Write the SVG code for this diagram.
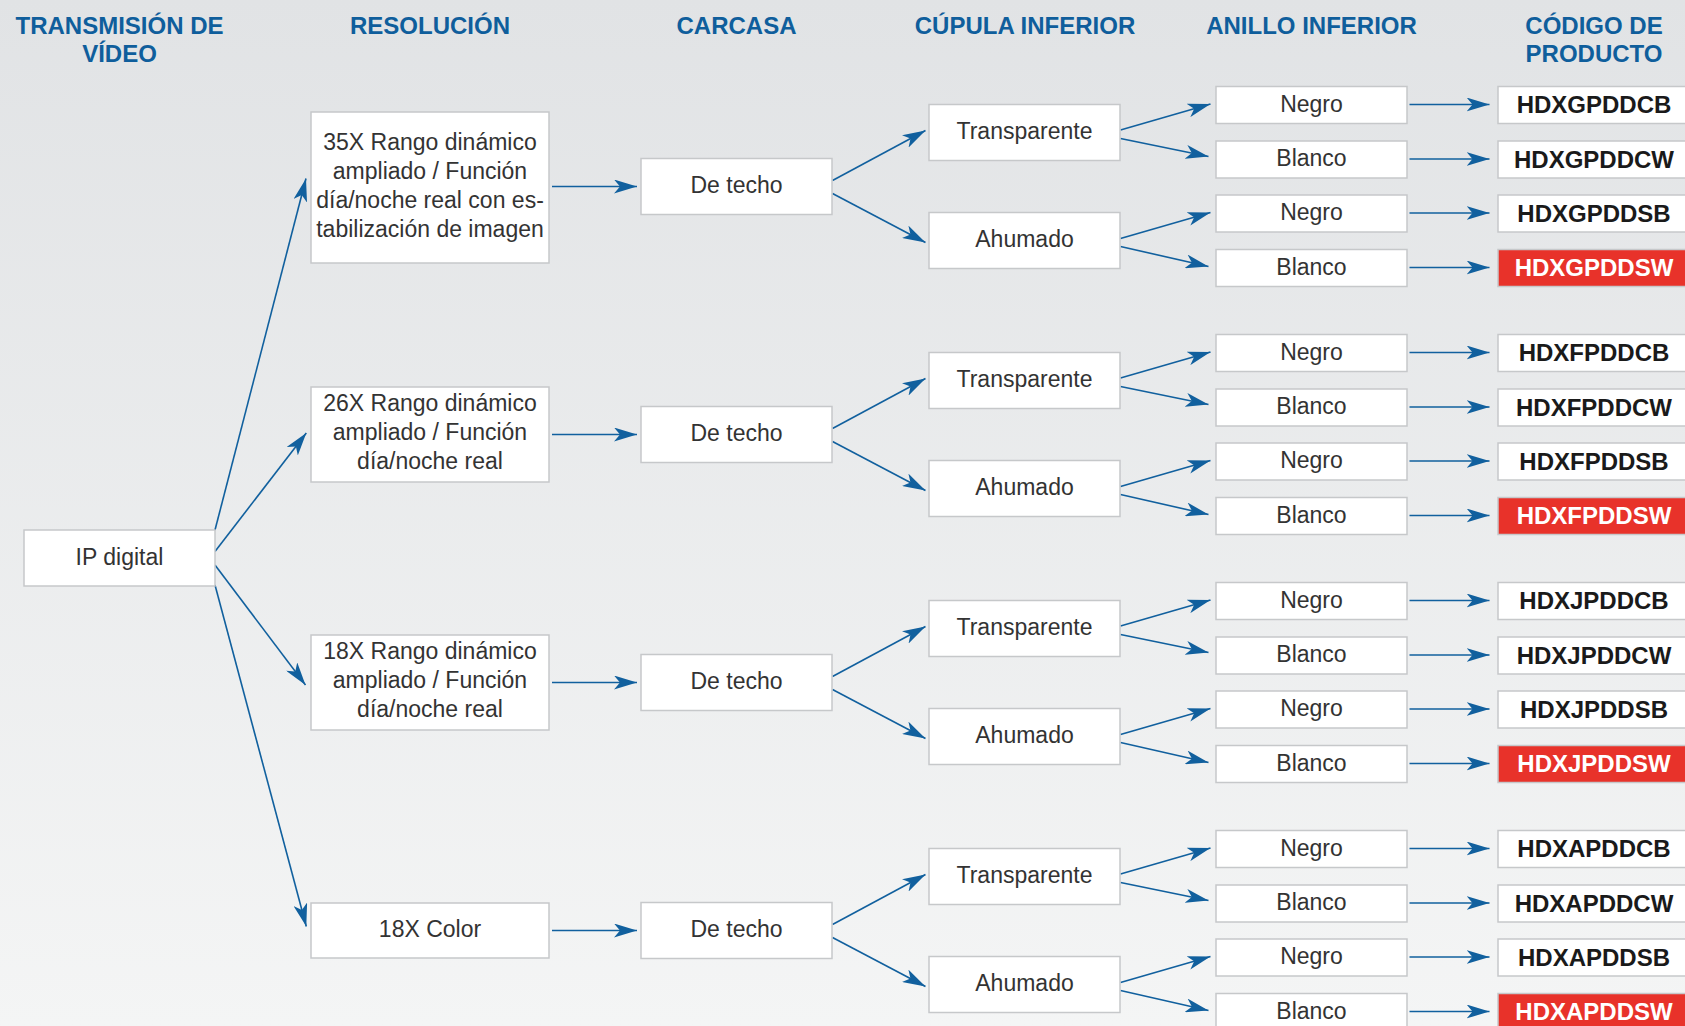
<svg xmlns="http://www.w3.org/2000/svg" width="1685" height="1026" viewBox="0 0 1685 1026">
<defs>
<linearGradient id="bg" x1="0" y1="0" x2="0" y2="1">
<stop offset="0" stop-color="#e1e3e5"/>
<stop offset="1" stop-color="#f4f5f5"/>
</linearGradient>
<marker id="ah" markerUnits="userSpaceOnUse" markerWidth="23" markerHeight="14" viewBox="0 0 23 14" refX="23" refY="7" orient="auto">
<path d="M0,0 L23,7 L0,14 L6,7 Z" fill="#11609e"/>
</marker>
<style>
.hd{font-family:"Liberation Sans",Arial,sans-serif;font-weight:bold;font-size:24px;fill:#0f5e9c;text-anchor:middle}
.bx{fill:#ffffff;stroke:#c6c8ca;stroke-width:1.5}
.red{fill:#e8322a;stroke:#c6c8ca;stroke-width:1.5}
.t{font-family:"Liberation Sans",Arial,sans-serif;font-size:23px;fill:#333333;text-anchor:middle}
.c{font-family:"Liberation Sans",Arial,sans-serif;font-weight:bold;font-size:24px;fill:#1a1a1a;text-anchor:middle}
.cw{font-family:"Liberation Sans",Arial,sans-serif;font-weight:bold;font-size:24px;fill:#ffffff;text-anchor:middle}
.ln{fill:none;stroke:#11609e;stroke-width:1.6;marker-end:url(#ah)}
</style>
</defs>
<rect x="0" y="0" width="1685" height="1026" fill="url(#bg)"/>

<g id="headers">
<text class="hd" x="119.5" y="33.5">TRANSMISIÓN DE</text>
<text class="hd" x="119.5" y="61.7">VÍDEO</text>
<text class="hd" x="430" y="33.5">RESOLUCIÓN</text>
<text class="hd" x="736.5" y="33.5">CARCASA</text>
<text class="hd" x="1025" y="33.5">CÚPULA INFERIOR</text>
<text class="hd" x="1311.5" y="33.5">ANILLO INFERIOR</text>
<text class="hd" x="1594" y="33.5">CÓDIGO DE</text>
<text class="hd" x="1594" y="61.7">PRODUCTO</text>
</g>

<g id="connectors">
<path class="ln" d="M215,530 L306,178.5"/>
<path class="ln" d="M215,551.5 L306.3,433"/>
<path class="ln" d="M215,565 L305.5,685"/>
<path class="ln" d="M215,585 L306.3,926.5"/>

<path class="ln" d="M552,186.5 L637,186.5"/>
<path class="ln" d="M552,434.5 L637,434.5"/>
<path class="ln" d="M552,682.5 L637,682.5"/>
<path class="ln" d="M552,930.5 L637,930.5"/>

<path class="ln" d="M832.5,180.5 L925.5,130.5"/>
<path class="ln" d="M832.5,193.5 L925.5,242.5"/>
<path class="ln" d="M832.5,428.5 L925.5,378.5"/>
<path class="ln" d="M832.5,441.5 L925.5,490.5"/>
<path class="ln" d="M832.5,676.5 L925.5,626.5"/>
<path class="ln" d="M832.5,689.5 L925.5,738.5"/>
<path class="ln" d="M832.5,924.5 L925.5,874.5"/>
<path class="ln" d="M832.5,937.5 L925.5,986.5"/>

<path class="ln" d="M1120.5,130 L1210.5,104"/>
<path class="ln" d="M1120.5,138.5 L1208.5,156.5"/>
<path class="ln" d="M1120.5,238.5 L1210.5,212.5"/>
<path class="ln" d="M1120.5,246.5 L1208.5,266.5"/>
<path class="ln" d="M1120.5,378 L1210.5,352"/>
<path class="ln" d="M1120.5,386.5 L1208.5,404.5"/>
<path class="ln" d="M1120.5,486.5 L1210.5,460.5"/>
<path class="ln" d="M1120.5,494.5 L1208.5,514.5"/>
<path class="ln" d="M1120.5,626 L1210.5,600"/>
<path class="ln" d="M1120.5,634.5 L1208.5,652.5"/>
<path class="ln" d="M1120.5,734.5 L1210.5,708.5"/>
<path class="ln" d="M1120.5,742.5 L1208.5,762.5"/>
<path class="ln" d="M1120.5,874 L1210.5,848"/>
<path class="ln" d="M1120.5,882.5 L1208.5,900.5"/>
<path class="ln" d="M1120.5,982.5 L1210.5,956.5"/>
<path class="ln" d="M1120.5,990.5 L1208.5,1010.5"/>

<path class="ln" d="M1409.5,104.5 L1489.5,104.5"/>
<path class="ln" d="M1409.5,159 L1489.5,159"/>
<path class="ln" d="M1409.5,213 L1489.5,213"/>
<path class="ln" d="M1409.5,267.5 L1489.5,267.5"/>
<path class="ln" d="M1409.5,352.5 L1489.5,352.5"/>
<path class="ln" d="M1409.5,407 L1489.5,407"/>
<path class="ln" d="M1409.5,461 L1489.5,461"/>
<path class="ln" d="M1409.5,515.5 L1489.5,515.5"/>
<path class="ln" d="M1409.5,600.5 L1489.5,600.5"/>
<path class="ln" d="M1409.5,655 L1489.5,655"/>
<path class="ln" d="M1409.5,709 L1489.5,709"/>
<path class="ln" d="M1409.5,763.5 L1489.5,763.5"/>
<path class="ln" d="M1409.5,848.5 L1489.5,848.5"/>
<path class="ln" d="M1409.5,903 L1489.5,903"/>
<path class="ln" d="M1409.5,957 L1489.5,957"/>
<path class="ln" d="M1409.5,1011.5 L1489.5,1011.5"/>
</g>

<g id="ip"><rect class="bx" x="24" y="530" width="191" height="56"/><text class="t" x="119.5" y="565">IP digital</text></g>

<g id="res1"><rect class="bx" x="311" y="112" width="238" height="151"/>
<text class="t" x="430" y="150">35X Rango dinámico</text>
<text class="t" x="430" y="179.2">ampliado / Función</text>
<text class="t" x="430" y="208.3">día/noche real con es-</text>
<text class="t" x="430" y="237.4">tabilización de imagen</text></g>
<g id="res2"><rect class="bx" x="311" y="387" width="238" height="95"/>
<text class="t" x="430" y="411.2">26X Rango dinámico</text>
<text class="t" x="430" y="440.3">ampliado / Función</text>
<text class="t" x="430" y="469.4">día/noche real</text></g>
<g id="res3"><rect class="bx" x="311" y="635" width="238" height="95"/>
<text class="t" x="430" y="659.2">18X Rango dinámico</text>
<text class="t" x="430" y="688.3">ampliado / Función</text>
<text class="t" x="430" y="717.4">día/noche real</text></g>
<g id="res4"><rect class="bx" x="311" y="903" width="238" height="55"/>
<text class="t" x="430" y="937">18X Color</text></g>

<g id="carc1"><rect class="bx" x="641" y="158.5" width="191" height="56"/><text class="t" x="736.5" y="193">De techo</text></g>
<g id="carc2"><rect class="bx" x="641" y="406.5" width="191" height="56"/><text class="t" x="736.5" y="441">De techo</text></g>
<g id="carc3"><rect class="bx" x="641" y="654.5" width="191" height="56"/><text class="t" x="736.5" y="689">De techo</text></g>
<g id="carc4"><rect class="bx" x="641" y="902.5" width="191" height="56"/><text class="t" x="736.5" y="937">De techo</text></g>

<g id="cup1t"><rect class="bx" x="929" y="104.5" width="191" height="56"/><text class="t" x="1024.5" y="139">Transparente</text></g>
<g id="cup1a"><rect class="bx" x="929" y="212.5" width="191" height="56"/><text class="t" x="1024.5" y="247">Ahumado</text></g>
<g id="cup2t"><rect class="bx" x="929" y="352.5" width="191" height="56"/><text class="t" x="1024.5" y="387">Transparente</text></g>
<g id="cup2a"><rect class="bx" x="929" y="460.5" width="191" height="56"/><text class="t" x="1024.5" y="495">Ahumado</text></g>
<g id="cup3t"><rect class="bx" x="929" y="600.5" width="191" height="56"/><text class="t" x="1024.5" y="635">Transparente</text></g>
<g id="cup3a"><rect class="bx" x="929" y="708.5" width="191" height="56"/><text class="t" x="1024.5" y="743">Ahumado</text></g>
<g id="cup4t"><rect class="bx" x="929" y="848.5" width="191" height="56"/><text class="t" x="1024.5" y="883">Transparente</text></g>
<g id="cup4a"><rect class="bx" x="929" y="956.5" width="191" height="56"/><text class="t" x="1024.5" y="991">Ahumado</text></g>

<g id="an1a"><rect class="bx" x="1216" y="86.5" width="191" height="37"/><text class="t" x="1311.5" y="111.5">Negro</text></g>
<g id="an1b"><rect class="bx" x="1216" y="141" width="191" height="37"/><text class="t" x="1311.5" y="166">Blanco</text></g>
<g id="an1c"><rect class="bx" x="1216" y="195" width="191" height="37"/><text class="t" x="1311.5" y="220">Negro</text></g>
<g id="an1d"><rect class="bx" x="1216" y="249.5" width="191" height="37"/><text class="t" x="1311.5" y="274.5">Blanco</text></g>
<g id="an2a"><rect class="bx" x="1216" y="334.5" width="191" height="37"/><text class="t" x="1311.5" y="359.5">Negro</text></g>
<g id="an2b"><rect class="bx" x="1216" y="389" width="191" height="37"/><text class="t" x="1311.5" y="414">Blanco</text></g>
<g id="an2c"><rect class="bx" x="1216" y="443" width="191" height="37"/><text class="t" x="1311.5" y="468">Negro</text></g>
<g id="an2d"><rect class="bx" x="1216" y="497.5" width="191" height="37"/><text class="t" x="1311.5" y="522.5">Blanco</text></g>
<g id="an3a"><rect class="bx" x="1216" y="582.5" width="191" height="37"/><text class="t" x="1311.5" y="607.5">Negro</text></g>
<g id="an3b"><rect class="bx" x="1216" y="637" width="191" height="37"/><text class="t" x="1311.5" y="662">Blanco</text></g>
<g id="an3c"><rect class="bx" x="1216" y="691" width="191" height="37"/><text class="t" x="1311.5" y="716">Negro</text></g>
<g id="an3d"><rect class="bx" x="1216" y="745.5" width="191" height="37"/><text class="t" x="1311.5" y="770.5">Blanco</text></g>
<g id="an4a"><rect class="bx" x="1216" y="830.5" width="191" height="37"/><text class="t" x="1311.5" y="855.5">Negro</text></g>
<g id="an4b"><rect class="bx" x="1216" y="885" width="191" height="37"/><text class="t" x="1311.5" y="910">Blanco</text></g>
<g id="an4c"><rect class="bx" x="1216" y="939" width="191" height="37"/><text class="t" x="1311.5" y="964">Negro</text></g>
<g id="an4d"><rect class="bx" x="1216" y="993.5" width="191" height="37"/><text class="t" x="1311.5" y="1018.5">Blanco</text></g>

<g id="p1a"><rect class="bx" x="1498" y="86.5" width="200" height="37"/><text class="c" x="1594" y="113">HDXGPDDCB</text></g>
<g id="p1b"><rect class="bx" x="1498" y="141" width="200" height="37"/><text class="c" x="1594" y="167.5">HDXGPDDCW</text></g>
<g id="p1c"><rect class="bx" x="1498" y="195" width="200" height="37"/><text class="c" x="1594" y="221.5">HDXGPDDSB</text></g>
<g id="p1d"><rect class="red" x="1498" y="249.5" width="200" height="37"/><text class="cw" x="1594" y="276">HDXGPDDSW</text></g>
<g id="p2a"><rect class="bx" x="1498" y="334.5" width="200" height="37"/><text class="c" x="1594" y="361">HDXFPDDCB</text></g>
<g id="p2b"><rect class="bx" x="1498" y="389" width="200" height="37"/><text class="c" x="1594" y="415.5">HDXFPDDCW</text></g>
<g id="p2c"><rect class="bx" x="1498" y="443" width="200" height="37"/><text class="c" x="1594" y="469.5">HDXFPDDSB</text></g>
<g id="p2d"><rect class="red" x="1498" y="497.5" width="200" height="37"/><text class="cw" x="1594" y="524">HDXFPDDSW</text></g>
<g id="p3a"><rect class="bx" x="1498" y="582.5" width="200" height="37"/><text class="c" x="1594" y="609">HDXJPDDCB</text></g>
<g id="p3b"><rect class="bx" x="1498" y="637" width="200" height="37"/><text class="c" x="1594" y="663.5">HDXJPDDCW</text></g>
<g id="p3c"><rect class="bx" x="1498" y="691" width="200" height="37"/><text class="c" x="1594" y="717.5">HDXJPDDSB</text></g>
<g id="p3d"><rect class="red" x="1498" y="745.5" width="200" height="37"/><text class="cw" x="1594" y="772">HDXJPDDSW</text></g>
<g id="p4a"><rect class="bx" x="1498" y="830.5" width="200" height="37"/><text class="c" x="1594" y="857">HDXAPDDCB</text></g>
<g id="p4b"><rect class="bx" x="1498" y="885" width="200" height="37"/><text class="c" x="1594" y="911.5">HDXAPDDCW</text></g>
<g id="p4c"><rect class="bx" x="1498" y="939" width="200" height="37"/><text class="c" x="1594" y="965.5">HDXAPDDSB</text></g>
<g id="p4d"><rect class="red" x="1498" y="993.5" width="200" height="37"/><text class="cw" x="1594" y="1020">HDXAPDDSW</text></g>
</svg>
